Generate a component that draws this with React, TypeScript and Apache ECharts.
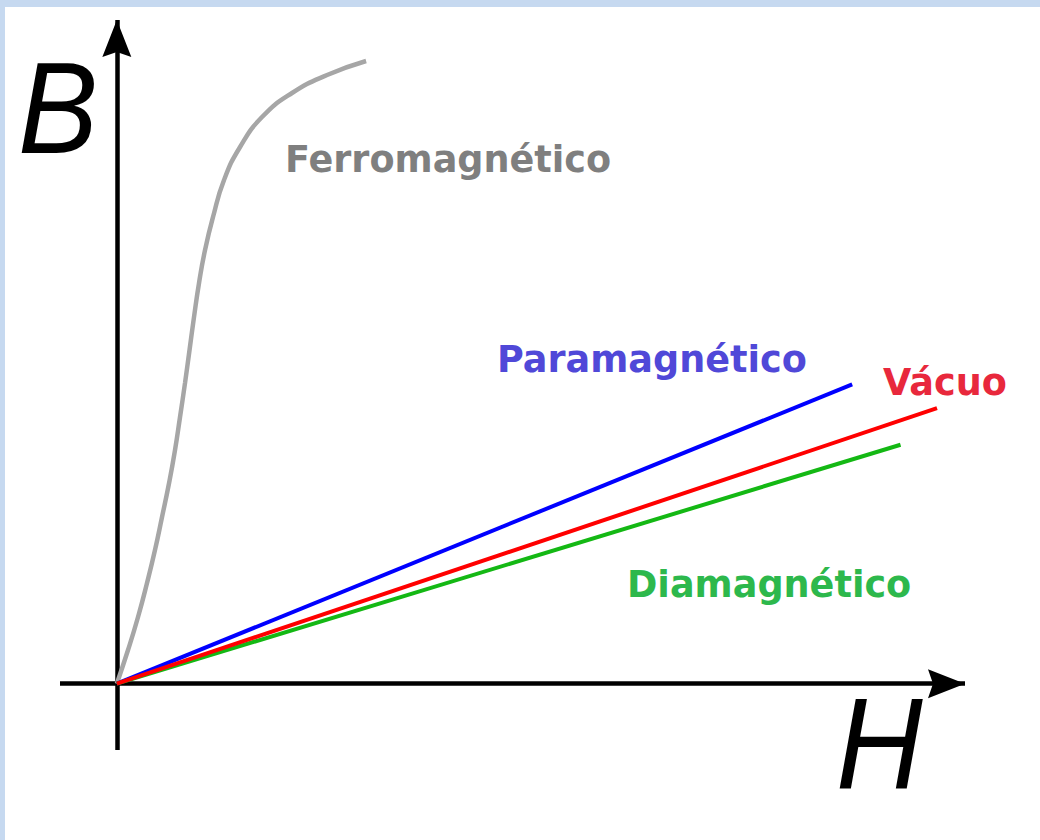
import React, { useEffect, useRef } from "react";
import * as echarts from "echarts";

// Ferromagnetic magnetisation curve (H, B)
const ferroH = [0, 0.132, 0.25, 0.356, 0.45, 0.533, 0.616, 0.686, 0.745, 0.804, 0.857, 0.91, 0.969, 1.04, 1.134, 1.264, 1.453, 1.712, 2.066, 2.479, 2.939];
const ferroB = [0, 0.506, 1.004, 1.516, 2.013, 2.511, 3.023, 3.52, 4.017, 4.53, 5.026, 5.524, 6.036, 6.534, 7.031, 7.589, 8.086, 8.538, 8.9, 9.171, 9.382];
// Linear materials
const paraH = [0, 8.67];
const paraB = [0, 4.51];
const vacuoH = [0, 9.67];
const vacuoB = [0, 4.15];
const diaH = [0, 9.24];
const diaB = [0, 3.6];

const seriesNames = ["Ferromagnético", "Paramagnético", "Vácuo", "Diamagnético"];
const axisNames = ["B", "H"];

const zip = (xs: number[], ys: number[]) => xs.map((x, i) => [x, ys[i]]);

export default function App() {
  const ref = useRef<HTMLDivElement>(null);
  useEffect(() => {
    if (!ref.current) return;
    const chart = echarts.init(ref.current, undefined, { renderer: "svg" });
    const arrowPath = "path://M14.5,0 L29,37 L14.5,32 L0,37 Z";
    const axisLine = {
      show: true,
      onZero: true,
      symbol: ["none", arrowPath],
      symbolSize: [29, 37],
      symbolOffset: [0, -18.5],
      lineStyle: { color: "#000", width: 4.5, cap: "butt" },
    };
    const labelFont = { fontFamily: "DejaVu Sans", fontWeight: "bold", fontSize: 36.6 };
    const axisFont = { fontFamily: "Liberation Sans", fontStyle: "italic", fontSize: 120, fill: "#000" };
    chart.setOption({
      animation: false,
      backgroundColor: "#ffffff",
      grid: { left: 60, right: 75, top: 20, bottom: 90, containLabel: false },
      xAxis: {
        type: "value",
        min: -0.67,
        max: 10,
        axisLine,
        axisTick: { show: false },
        axisLabel: { show: false },
        splitLine: { show: false },
      },
      yAxis: {
        type: "value",
        min: -1,
        max: 10,
        axisLine,
        axisTick: { show: false },
        axisLabel: { show: false },
        splitLine: { show: false },
      },
      series: [
        {
          name: seriesNames[0],
          type: "line",
          data: zip(ferroH, ferroB),
          smooth: 0.5,
          showSymbol: false,
          lineStyle: { color: "#a6a6a6", width: 4.5 },
        },
        {
          name: seriesNames[1],
          type: "line",
          data: zip(paraH, paraB),
          showSymbol: false,
          lineStyle: { color: "#0000ff", width: 4 },
        },
        {
          name: seriesNames[3],
          type: "line",
          data: zip(diaH, diaB),
          showSymbol: false,
          lineStyle: { color: "#14b814", width: 4 },
        },
        {
          name: seriesNames[2],
          type: "line",
          data: zip(vacuoH, vacuoB),
          showSymbol: false,
          lineStyle: { color: "#ff0000", width: 4 },
        },
      ],
      graphic: [
        { type: "rect", z: -10, shape: { x: 0, y: 0, width: 1040, height: 7 }, style: { fill: "#c6d9f0" } },
        { type: "rect", z: -10, shape: { x: 0, y: 0, width: 5, height: 840 }, style: { fill: "#c6d9f0" } },
        { type: "text", x: 18, y: 108, scaleY: 1.08, style: { text: axisNames[0], ...axisFont, textVerticalAlign: "middle" } },
        { type: "text", x: 836, y: 743, scaleY: 1.08, style: { text: axisNames[1], ...axisFont, textVerticalAlign: "middle" } },
        { type: "text", x: 285, y: 159, style: { text: seriesNames[0], ...labelFont, fill: "#7f7f7f", textVerticalAlign: "middle" } },
        { type: "text", x: 497, y: 359, style: { text: seriesNames[1], ...labelFont, fill: "#5048d8", textVerticalAlign: "middle" } },
        { type: "text", x: 883, y: 382, style: { text: seriesNames[2], ...labelFont, fill: "#e8283c", textVerticalAlign: "middle" } },
        { type: "text", x: 627, y: 584, style: { text: seriesNames[3], ...labelFont, fill: "#2db84c", textVerticalAlign: "middle" } },
      ],
    });
    return () => chart.dispose();
  }, []);
  return (
    <div
      ref={ref}
      style={{ position: "absolute", left: 0, top: 0, width: 1040, height: 840 }}
    />
  );
}
